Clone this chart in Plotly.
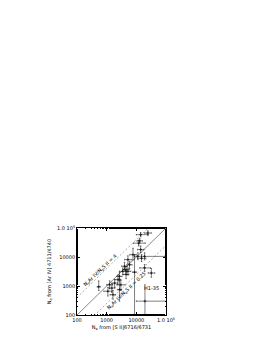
import plotly.graph_objects as go

# [S II] density (x), [Ar IV] density (y), with error ranges
ne_sii = [540, 1100, 1260, 1500, 1630, 1860, 2400, 2700, 2700, 3000, 3500, 4000, 4500, 4500,
          5200, 5200, 5900, 7700, 8700, 11300, 12000, 13000, 14000, 14000, 15000, 19000, 19000,
          24500, 32000, 19500]
ne_ariv = [940, 660, 1100, 850, 500, 1260, 1650, 2150, 750, 1100, 3200, 4800, 3700, 2500,
           8100, 3200, 5400, 12000, 3000, 10500, 30000, 36000, 59000, 18000, 9000, 10500, 4200,
           67000, 2800, 300]
x_lo = [480, 800, 1000, 1200, 1300, 1500, 1900, 2200, 2300, 2200, 2700, 3200, 3500, 3600,
        4000, 4200, 4800, 6000, 7500, 8500, 8000, 10500, 10000, 11000, 11000, 15000, 13000,
        19000, 25000, 10000]
x_hi = [610, 1500, 1600, 1900, 2000, 2300, 3000, 3300, 3200, 4200, 4500, 5000, 5800, 5600,
        6800, 6500, 7200, 10000, 10000, 15000, 20000, 16000, 25000, 18000, 21000, 90000, 30000,
        32000, 42000, 200000]
y_lo = [700, 450, 800, 600, 350, 900, 1100, 1500, 300, 700, 2500, 3500, 2800, 1800,
        6000, 2400, 4000, 8000, 50, 8000, 24000, 30000, 50000, 14000, 7000, 8000, 3200,
        56000, 2000, 50]
y_hi = [1500, 900, 1500, 1200, 700, 1700, 2400, 3000, 1800, 1600, 4200, 6500, 4800, 3400,
        11000, 4200, 7000, 20000, 12000, 14000, 38000, 44000, 70000, 24000, 12000, 14000, 5500,
        80000, 4000, 1100]

ratio_hi = 4
ratio_lo = 0.25
line_x = [100, 100000]

fig = go.Figure()

fig.add_trace(go.Scatter(x=line_x, y=line_x, mode="lines",
                         line=dict(color="#555", width=0.7), showlegend=False))
fig.add_trace(go.Scatter(x=line_x, y=[v * ratio_hi for v in line_x], mode="lines",
                         line=dict(color="#888", width=0.7, dash="2px,2px"), showlegend=False))
fig.add_trace(go.Scatter(x=line_x, y=[v * ratio_lo for v in line_x], mode="lines",
                         line=dict(color="#888", width=0.7, dash="2px,2px"), showlegend=False))

fig.add_trace(go.Scatter(
    x=ne_sii, y=ne_ariv, mode="markers",
    marker=dict(symbol="cross-thin", size=2, line=dict(color="black", width=0.6)),
    error_x=dict(type="data", symmetric=False,
                 array=[h - v for h, v in zip(x_hi, ne_sii)],
                 arrayminus=[v - l for l, v in zip(x_lo, ne_sii)],
                 color="black", thickness=0.5, width=0.8),
    error_y=dict(type="data", symmetric=False,
                 array=[h - v for h, v in zip(y_hi, ne_ariv)],
                 arrayminus=[v - l for l, v in zip(y_lo, ne_ariv)],
                 color="black", thickness=0.5, width=0.8),
    showlegend=False))

tickvals = [100, 1000, 10000, 100000]
ticktext = ["100", "1000", "10000", "1.0 10<sup>5</sup>"]
axis_common = dict(type="log", range=[2, 5], tickvals=tickvals, ticktext=ticktext,
                   ticks="inside", ticklen=3, tickwidth=0.6, tickcolor="black",
                   showline=True, linecolor="black", linewidth=0.7, mirror="ticks",
                   showgrid=False, zeroline=False,
                   tickfont=dict(size=5, family="DejaVu Sans", color="black"),
                   minor=dict(ticks="inside", ticklen=1.5, tickwidth=0.4, tickcolor="black",
                              showgrid=False))

fig.update_layout(
    width=274, height=354,
    margin=dict(l=69, r=116, t=220, b=47),
    paper_bgcolor="white", plot_bgcolor="white",
    font=dict(family="DejaVu Sans", size=5, color="black"),
    xaxis=dict(**axis_common, title=dict(text="N<sub>e</sub> from [S II]6716/6731",
                                         font=dict(size=5, family="DejaVu Sans", color="black"),
                                         standoff=3)),
    yaxis=dict(**axis_common, title=dict(text="N<sub>e</sub> from [Ar IV] 4711/4740",
                                         font=dict(size=5, family="DejaVu Sans", color="black"),
                                         standoff=5)),
    annotations=[
        dict(x=2.77, y=3.55, xref="x", yref="y", text="N<sub>e</sub>Ar IV/N<sub>e</sub>S II = 4",
             showarrow=False, textangle=-44, font=dict(size=5, family="DejaVu Sans", color="black")),
        dict(x=3.68, y=2.83, xref="x", yref="y", text="N<sub>e</sub>Ar IV/N<sub>e</sub>S II = 0.25",
             showarrow=False, textangle=-44, font=dict(size=5, family="DejaVu Sans", color="black")),
        dict(x=4.5, y=2.92, xref="x", yref="y", text="H1-35",
             showarrow=False, font=dict(size=5, family="DejaVu Sans", color="black")),
    ],
)

fig.write_html("out.html")
